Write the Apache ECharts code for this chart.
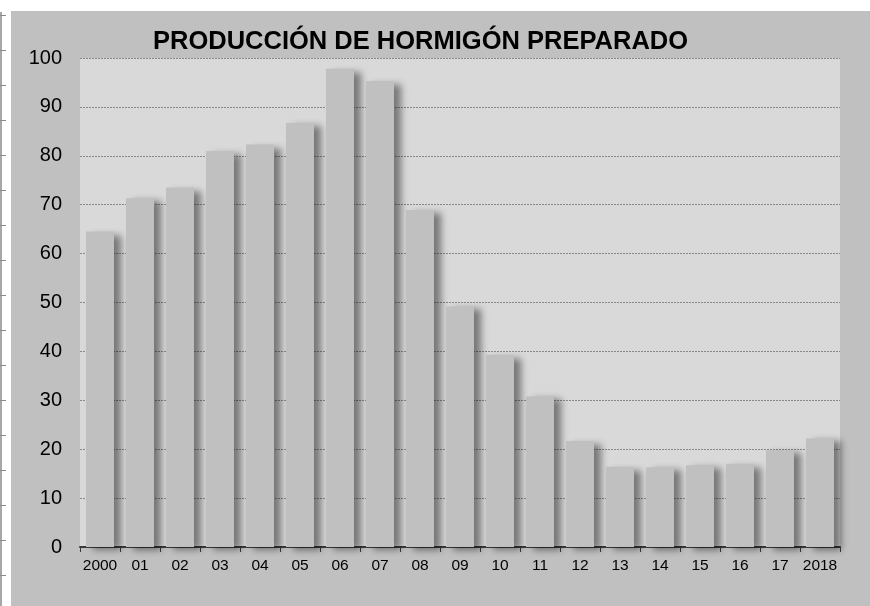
<!DOCTYPE html>
<html>
<head>
<meta charset="utf-8">
<script src="https://cdn.jsdelivr.net/npm/echarts@6/dist/echarts.min.js"></script>
<style>
html,body{margin:0;padding:0;background:#fff;}
#chart{width:870px;height:606px;}
</style>
</head>
<body>
<div id="chart"></div>
<script>
const titleText = 'PRODUCCIÓN DE HORMIGÓN PREPARADO';
const categories = ['2000','01','02','03','04','05','06','07','08','09','10','11','12','13','14','15','16','17','2018'];
const values = [64.5, 71.3, 73.5, 81.0, 82.3, 86.7, 97.8, 95.3, 68.9, 49.2, 39.3, 30.8, 21.7, 16.4, 16.3, 16.7, 17.0, 19.8, 22.2];
const yTicks = [0, 10, 20, 30, 40, 50, 60, 70, 80, 90, 100];

const chart = echarts.init(document.getElementById('chart'), null, {renderer: 'canvas'});

const deco = [
  {type: 'rect', shape: {x: 11, y: 11, width: 859, height: 595}, style: {fill: '#c0c0c0'}, z: -10},
  {type: 'line', shape: {x1: 1, y1: 12, x2: 1, y2: 606}, style: {stroke: '#8a8a8a', lineWidth: 1.5}, z: -10}
];
for (let y = 15; y < 606; y += 35) {
  deco.push({type: 'line', shape: {x1: 0, y1: y + 0.5, x2: 6, y2: y + 0.5}, style: {stroke: '#8a8a8a', lineWidth: 1}, z: -10});
}

chart.setOption({
  animation: false,
  backgroundColor: '#ffffff',
  graphic: deco,
  title: {
    text: titleText,
    left: 148,
    top: 24,
    textStyle: {fontFamily: 'Liberation Sans, Arial, sans-serif', fontSize: 25.5, fontWeight: 'bold', color: '#000'}
  },
  grid: {left: 80, right: 30, top: 58, bottom: 59, show: true, backgroundColor: '#d9d9d9', borderWidth: 0},
  xAxis: {
    type: 'category',
    data: categories,
    axisLine: {show: true, lineStyle: {color: '#3a3a3a', width: 2}},
    axisTick: {show: true, alignWithLabel: false, length: 5, lineStyle: {color: '#3a3a3a', width: 1}},
    axisLabel: {fontFamily: 'Liberation Sans, Arial, sans-serif', fontSize: 15.5, color: '#000', margin: 11, interval: 0},
    splitLine: {show: false}
  },
  yAxis: {
    type: 'value',
    min: 0,
    max: 100,
    interval: 10,
    axisLine: {show: false},
    axisTick: {show: false},
    axisLabel: {fontFamily: 'Liberation Sans, Arial, sans-serif', fontSize: 20, color: '#000', margin: 18,
      formatter: function (v) { return yTicks.indexOf(v) >= 0 ? String(v) : ''; }},
    splitLine: {show: true, lineStyle: {color: '#888888', width: 1, type: [2, 1]}}
  },
  series: [{
    type: 'bar',
    data: values,
    barWidth: 28,
    itemStyle: {
      color: '#c0c0c0',
      shadowColor: 'rgba(0,0,0,0.45)',
      shadowBlur: 7,
      shadowOffsetX: 7,
      shadowOffsetY: 3
    },
    z: 2
  }]
});
</script>
</body>
</html>
